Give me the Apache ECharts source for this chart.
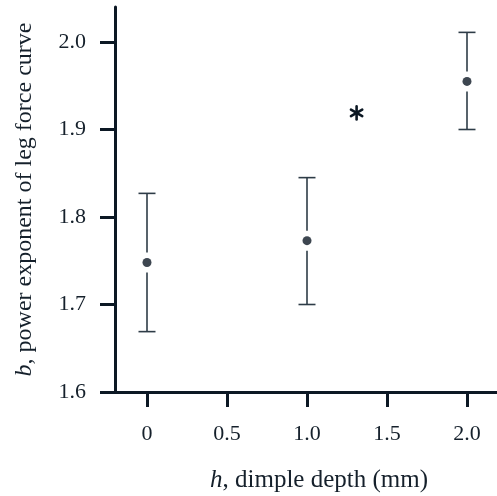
<!DOCTYPE html>
<html lang="en" style="height: 100%">
<head>
  <meta charset="utf-8" />
  <title>Power exponent vs dimple depth</title>
</head>
<body style="height: 100%; margin: 0; background: #fff">
  <div id="container" style="width: 497px; height: 496px"></div>

  <script src="https://cdn.jsdelivr.net/npm/echarts@6/dist/echarts.min.js"></script>

  <script>
    // data
    const depth = [0, 1.0, 2.0];          // h, dimple depth (mm)
    const meanB = [1.748, 1.773, 1.955];  // b, power exponent
    const upperB = [1.827, 1.845, 2.011];
    const lowerB = [1.669, 1.700, 1.900];
    const starPoint = [1.31, 1.919];      // significance marker

    const xTicks = [0, 0.5, 1.0, 1.5, 2.0];
    const xTickLabels = ['0', '0.5', '1.0', '1.5', '2.0'];
    const yTicks = [1.6, 1.7, 1.8, 1.9, 2.0];
    const yTickLabels = ['1.6', '1.7', '1.8', '1.9', '2.0'];

    const ink = '#0c1824';
    const barInk = '#2e3c47';
    const textInk = '#15202b';
    const font = 'Liberation Serif, Times New Roman, serif';

    const errData = [];
    const dotData = [];
    for (let i = 0; i < depth.length; i++) {
      errData.push([depth[i], meanB[i], lowerB[i], upperB[i]]);
      dotData.push([depth[i], meanB[i]]);
    }

    var dom = document.getElementById('container');
    var myChart = echarts.init(dom);

    var option = {
      animation: false,
      grid: { left: 115, top: 7, width: 384, height: 385, outerBoundsMode: 'none' },
      xAxis: {
        type: 'value',
        min: -0.2,
        max: 2.2,
        name: '{i|h}, dimple depth (mm)',
        nameLocation: 'middle',
        nameGap: 76,
        nameTextStyle: {
          fontFamily: font, fontSize: 25, color: textInk,
          padding: [0, 0, 0, 24],
          rich: { i: { fontFamily: font, fontSize: 25, fontStyle: 'italic', color: textInk } }
        },
        splitLine: { show: false },
        axisLine: { onZero: false, lineStyle: { color: ink, width: 3 } },
        axisTick: { customValues: xTicks, length: 15, lineStyle: { color: ink, width: 3 } },
        axisLabel: {
          customValues: xTicks,
          formatter: function (v) { return xTickLabels[xTicks.indexOf(v)]; },
          margin: 31, fontFamily: font, fontSize: 22, color: textInk
        }
      },
      yAxis: {
        type: 'value',
        min: 1.6,
        max: 2.04,
        name: '{i|b}, power exponent of leg force curve',
        nameLocation: 'middle',
        nameGap: 78,
        nameTextStyle: {
          fontFamily: font, fontSize: 24, color: textInk,
          rich: { i: { fontFamily: font, fontSize: 24, fontStyle: 'italic', color: textInk } }
        },
        splitLine: { show: false },
        axisLine: { show: true, onZero: false, lineStyle: { color: ink, width: 3 } },
        axisTick: { show: true, customValues: yTicks, length: 15, lineStyle: { color: ink, width: 3 } },
        axisLabel: {
          customValues: yTicks,
          formatter: function (v) { return yTickLabels[yTicks.indexOf(v)]; },
          margin: 29, fontFamily: font, fontSize: 22, color: textInk
        }
      },
      series: [
        {
          type: 'custom',
          data: errData,
          renderItem: function (params, api) {
            const x = api.value(0);
            const mid = api.coord([x, api.value(1)]);
            const lo = api.coord([x, api.value(2)]);
            const hi = api.coord([x, api.value(3)]);
            const cap = 8.5, gap = 10;
            const style = { stroke: barInk, lineWidth: 1.6 };
            return {
              type: 'group',
              children: [
                { type: 'line', shape: { x1: mid[0], y1: hi[1], x2: mid[0], y2: mid[1] - gap }, style: style },
                { type: 'line', shape: { x1: mid[0], y1: mid[1] + gap, x2: mid[0], y2: lo[1] }, style: style },
                { type: 'line', shape: { x1: mid[0] - cap, y1: hi[1], x2: mid[0] + cap, y2: hi[1] }, style: style },
                { type: 'line', shape: { x1: mid[0] - cap, y1: lo[1], x2: mid[0] + cap, y2: lo[1] }, style: style }
              ]
            };
          }
        },
        {
          type: 'scatter',
          data: dotData,
          symbol: 'circle',
          symbolSize: 9,
          itemStyle: { color: ink }
        },
        {
          type: 'custom',
          data: [starPoint],
          renderItem: function (params, api) {
            const c = api.coord([api.value(0), api.value(1)]);
            const r = 6.5;
            const kids = [];
            for (let k = 0; k < 3; k++) {
              const a = Math.PI / 2 + k * Math.PI / 3;
              kids.push({
                type: 'line',
                shape: { x1: c[0] - r * Math.cos(a), y1: c[1] - r * Math.sin(a), x2: c[0] + r * Math.cos(a), y2: c[1] + r * Math.sin(a) },
                style: { stroke: ink, lineWidth: 2.6, lineCap: 'round' }
              });
            }
            return { type: 'group', children: kids };
          }
        }
      ]
    };

    myChart.setOption(option);

    window.onresize = function () {
      myChart.resize();
    };
  </script>
</body>
</html>
